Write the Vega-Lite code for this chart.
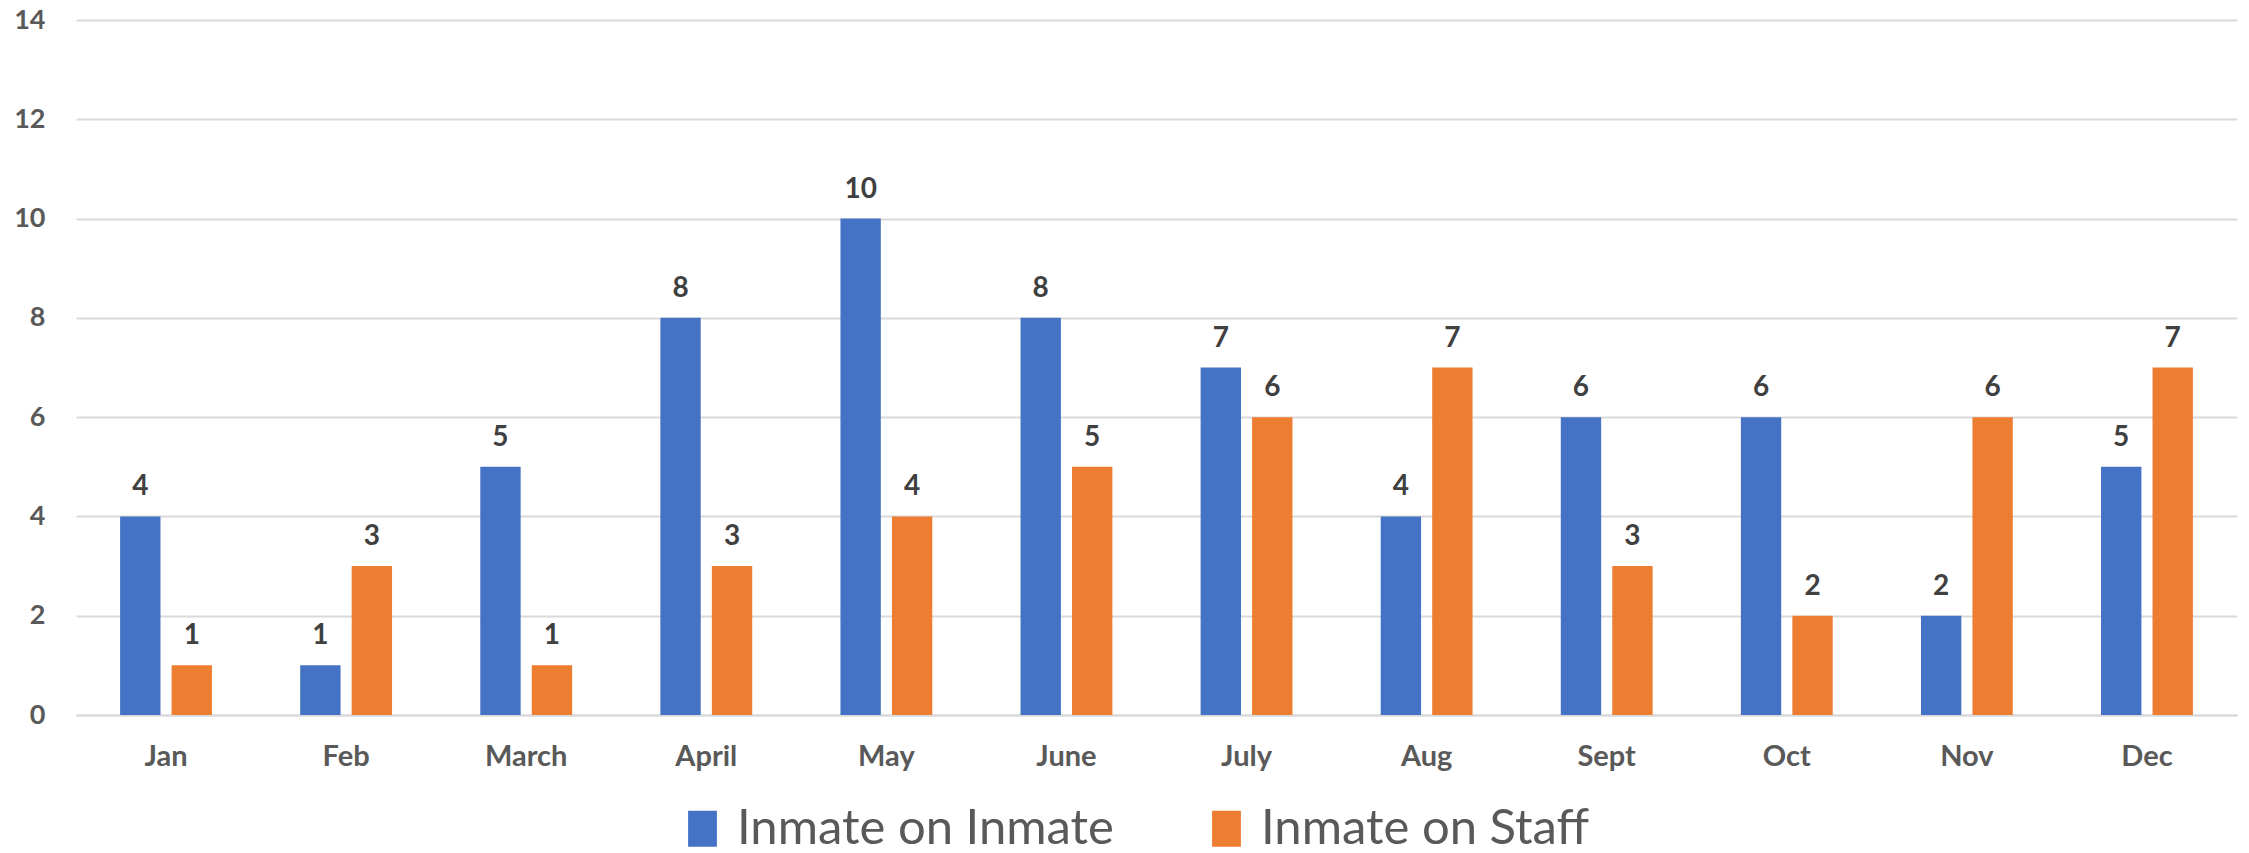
{
  "$schema": "https://vega.github.io/schema/vega-lite/v6.json",
  "width": 2161,
  "height": 695,
  "autosize": {"type": "none"},
  "padding": {"left": 76, "top": 20, "right": 12, "bottom": 138},
  "background": "white",
  "config": {
    "view": {"stroke": null},
    "font": "Lato"
  },
  "data": {
    "values": [
      {"month": "Jan", "series": "Inmate on Inmate", "value": 4},
      {"month": "Jan", "series": "Inmate on Staff", "value": 1},
      {"month": "Feb", "series": "Inmate on Inmate", "value": 1},
      {"month": "Feb", "series": "Inmate on Staff", "value": 3},
      {"month": "March", "series": "Inmate on Inmate", "value": 5},
      {"month": "March", "series": "Inmate on Staff", "value": 1},
      {"month": "April", "series": "Inmate on Inmate", "value": 8},
      {"month": "April", "series": "Inmate on Staff", "value": 3},
      {"month": "May", "series": "Inmate on Inmate", "value": 10},
      {"month": "May", "series": "Inmate on Staff", "value": 4},
      {"month": "June", "series": "Inmate on Inmate", "value": 8},
      {"month": "June", "series": "Inmate on Staff", "value": 5},
      {"month": "July", "series": "Inmate on Inmate", "value": 7},
      {"month": "July", "series": "Inmate on Staff", "value": 6},
      {"month": "Aug", "series": "Inmate on Inmate", "value": 4},
      {"month": "Aug", "series": "Inmate on Staff", "value": 7},
      {"month": "Sept", "series": "Inmate on Inmate", "value": 6},
      {"month": "Sept", "series": "Inmate on Staff", "value": 3},
      {"month": "Oct", "series": "Inmate on Inmate", "value": 6},
      {"month": "Oct", "series": "Inmate on Staff", "value": 2},
      {"month": "Nov", "series": "Inmate on Inmate", "value": 2},
      {"month": "Nov", "series": "Inmate on Staff", "value": 6},
      {"month": "Dec", "series": "Inmate on Inmate", "value": 5},
      {"month": "Dec", "series": "Inmate on Staff", "value": 7}
    ]
  },
  "encoding": {
    "x": {
      "field": "month",
      "type": "nominal",
      "sort": null,
      "scale": {"paddingInner": 0.49, "paddingOuter": 0.245},
      "axis": {
        "title": null,
        "labelAngle": 0,
        "labelFontSize": 29,
        "labelFontWeight": "bold",
        "labelColor": "#595959",
        "labelPadding": 27,
        "ticks": false,
        "domain": true,
        "domainColor": "#D9D9D9",
        "domainWidth": 2,
        "grid": false
      }
    },
    "xOffset": {
      "field": "series",
      "type": "nominal",
      "scale": {"paddingInner": 0.216, "paddingOuter": 0}
    },
    "y": {
      "field": "value",
      "type": "quantitative",
      "scale": {"domain": [0, 14], "nice": false},
      "axis": {
        "title": null,
        "values": [0, 2, 4, 6, 8, 10, 12, 14],
        "labelFontSize": 27,
        "labelFontWeight": "bold",
        "labelColor": "#595959",
        "labelPadding": 31,
        "ticks": false,
        "domain": false,
        "gridColor": "#D9D9D9",
        "gridWidth": 2
      }
    }
  },
  "layer": [
    {
      "mark": {"type": "bar"},
      "encoding": {
        "color": {
          "field": "series",
          "type": "nominal",
          "scale": {"domain": ["Inmate on Inmate", "Inmate on Staff"], "range": ["#4472C4", "#ED7D31"]},
          "legend": {
            "title": null,
            "orient": "none",
            "legendX": 602,
            "legendY": 784,
            "direction": "horizontal",
            "symbolType": "M-0.8,-1H0.8V1H-0.8Z",
            "symbolSize": 1296,
            "symbolStrokeWidth": 0,
            "labelFontSize": 49,
            "labelFont": "Lato",
            "labelColor": "#595959",
            "labelLimit": 800,
            "labelOffset": 10,
            "columnPadding": 88,
            "padding": 0
          }
        }
      }
    },
    {
      "mark": {"type": "text", "baseline": "bottom", "dy": -15, "fontSize": 28, "fontWeight": "bold", "color": "#404040"},
      "encoding": {
        "text": {"field": "value", "type": "quantitative"}
      }
    }
  ]
}
